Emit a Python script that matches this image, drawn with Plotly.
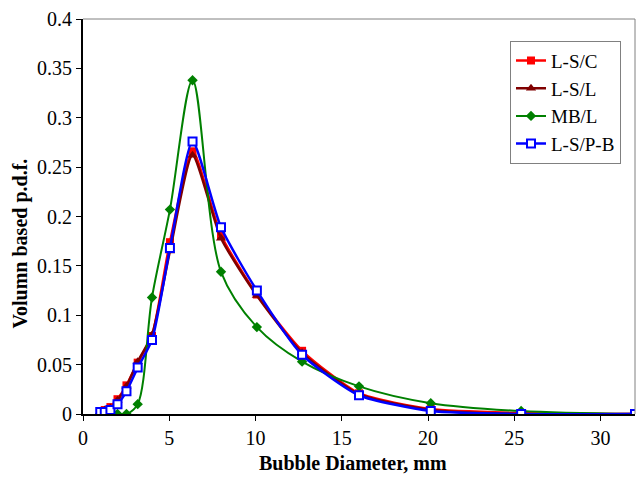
import plotly.graph_objects as go

diameter = [1.0, 1.26, 1.59, 2.0, 2.52, 3.17, 4.0, 5.04, 6.35, 8.0, 10.08, 12.7, 16.0, 20.16, 25.4, 32.0]

ls_c = [0.003, 0.004, 0.007, 0.015, 0.029, 0.052, 0.079, 0.174, 0.266, 0.181, 0.121, 0.064, 0.021, 0.005, 0.001, 0.0]
ls_l = [0.002, 0.004, 0.006, 0.014, 0.028, 0.053, 0.080, 0.165, 0.262, 0.178, 0.120, 0.062, 0.020, 0.004, 0.0, 0.0]
mb_l = [0.0, 0.0, 0.0, 0.0, 0.0, 0.010, 0.118, 0.207, 0.338, 0.144, 0.088, 0.053, 0.028, 0.011, 0.003, 0.0]
ls_pb = [0.002, 0.002, 0.004, 0.010, 0.023, 0.047, 0.075, 0.168, 0.276, 0.189, 0.125, 0.060, 0.019, 0.003, 0.0, 0.0]

series_names = ["L-S/C", "L-S/L", "MB/L", "L-S/P-B"]
x_title = "Bubble Diameter, mm"
y_title = "Volumn based p.d.f."

FONT = "Liberation Serif"

fig = go.Figure()
fig.add_trace(go.Scatter(
    x=diameter, y=ls_c, name=series_names[0], mode="lines+markers",
    line=dict(color="#FF0000", width=2.5, shape="spline", smoothing=0.6),
    marker=dict(symbol="square", size=8, color="#FF0000")))
fig.add_trace(go.Scatter(
    x=diameter, y=ls_l, name=series_names[1], mode="lines+markers",
    line=dict(color="#800000", width=2.5, shape="spline", smoothing=0.6),
    marker=dict(symbol="triangle-up", size=9, color="#800000")))
fig.add_trace(go.Scatter(
    x=diameter, y=mb_l, name=series_names[2], mode="lines+markers",
    line=dict(color="#008000", width=2, shape="spline", smoothing=0.9),
    marker=dict(symbol="diamond", size=8, color="#008000")))
fig.add_trace(go.Scatter(
    x=diameter, y=ls_pb, name=series_names[3], mode="lines+markers",
    line=dict(color="#0000FF", width=2.5, shape="spline", smoothing=0.6),
    marker=dict(symbol="square", size=8, color="white",
                line=dict(color="#0000FF", width=2))))

# plot area: x 83..635, y 13..414
fig.update_layout(
    width=643, height=477,
    margin=dict(l=83, r=8, t=13, b=63),
    paper_bgcolor="white", plot_bgcolor="white",
    font=dict(family=FONT, size=20, color="black"),
    showlegend=True,
    legend=dict(x=(510 - 83) / 552, y=(414 - 35) / 401, xanchor="left", yanchor="top",
                bordercolor="#808080", borderwidth=1, bgcolor="white",
                font=dict(family=FONT, size=19), tracegroupgap=0,
                itemwidth=30),
    xaxis=dict(range=[0, 32], tickmode="array", tickvals=[0, 5, 10, 15, 20, 25, 30],
               showgrid=False, zeroline=False, showline=True, linecolor="black", linewidth=2,
               ticks="outside", ticklen=5, tickwidth=1, tickcolor="black",
               tickfont=dict(family=FONT, size=20)),
    yaxis=dict(range=[0, 0.4], dtick=0.05,
               showgrid=False, zeroline=False, showline=True, linecolor="black", linewidth=2,
               ticks="outside", ticklen=5, tickwidth=1, tickcolor="black",
               tickfont=dict(family=FONT, size=20)),
    annotations=[
        dict(text="<b>" + x_title + "</b>", xref="paper", yref="paper",
             x=(353 - 83) / 552, y=-(464 - 414) / 401, xanchor="center", yanchor="middle",
             showarrow=False, font=dict(family=FONT, size=20)),
        dict(text="<b>" + y_title + "</b>", xref="paper", yref="paper",
             x=-(83 - 21) / 552, y=(414 - 241) / 401, xanchor="center", yanchor="middle",
             textangle=-90, showarrow=False, font=dict(family=FONT, size=20)),
    ],
    shapes=[
        dict(type="line", xref="paper", yref="paper", x0=0, x1=1, y0=1, y1=1,
             line=dict(color="#808080", width=1)),
        dict(type="line", xref="paper", yref="paper", x0=1, x1=1, y0=0, y1=1,
             line=dict(color="#808080", width=1)),
    ],
)

fig.write_html("out.html")
